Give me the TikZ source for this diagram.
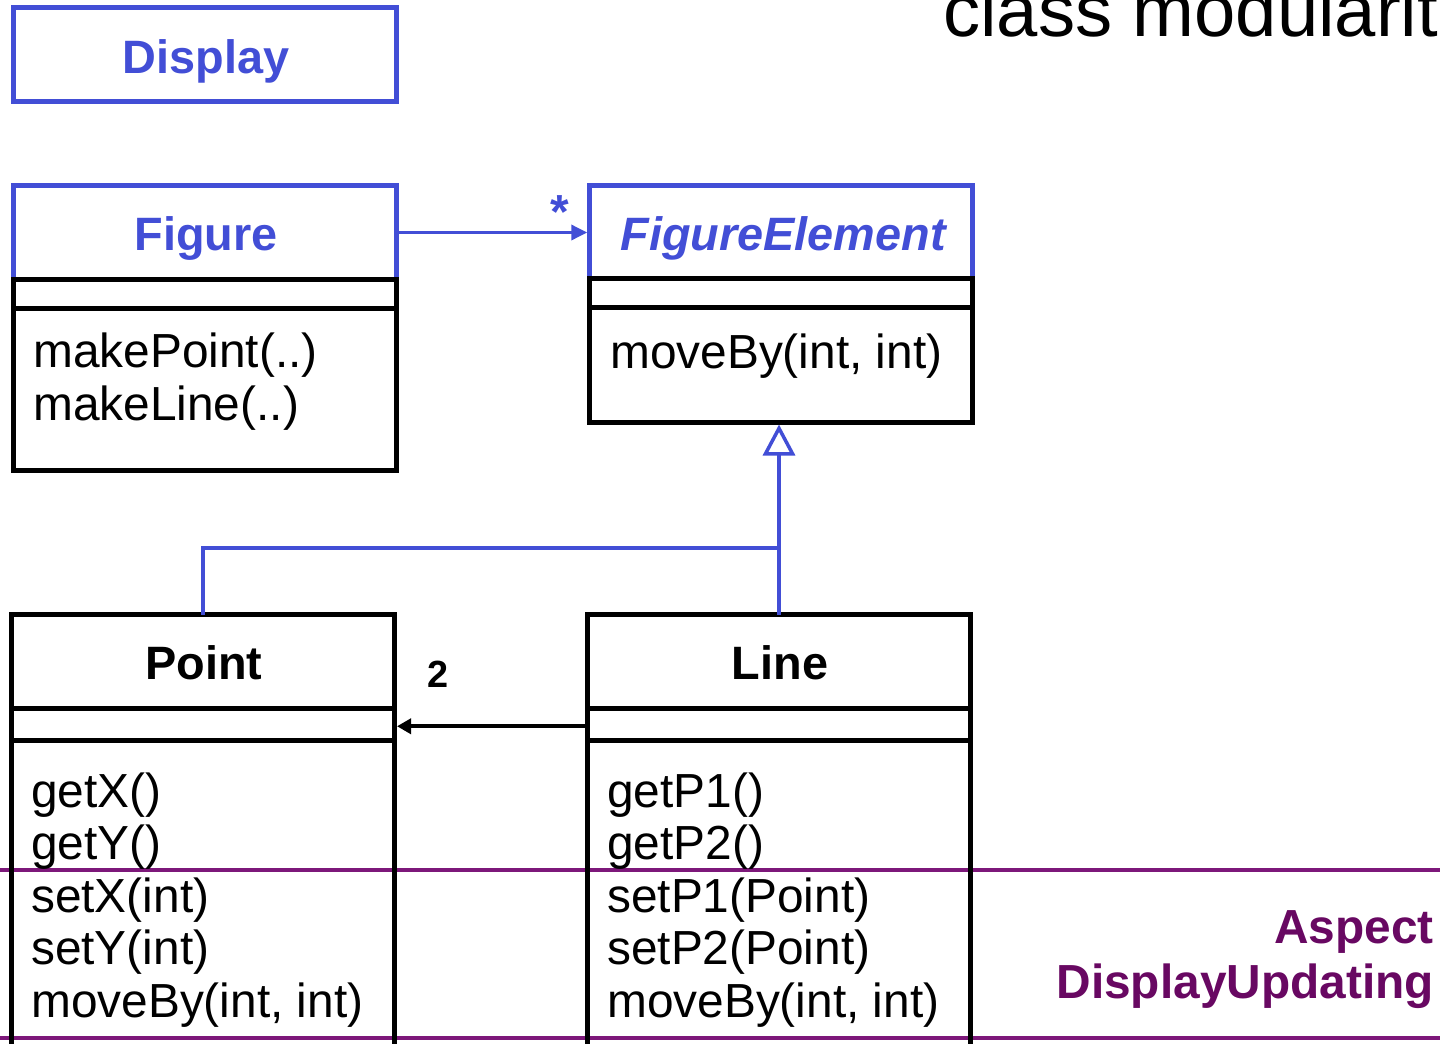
\documentclass[tikz,border=0pt]{standalone}
\usepackage{fontspec}
\setmainfont{Liberation Sans}
\usetikzlibrary{arrows.meta}
\definecolor{umlblue}{RGB}{66,78,214}
\definecolor{asppurple}{RGB}{125,24,122}
\definecolor{asptext}{RGB}{104,8,98}
\begin{document}
\begin{tikzpicture}[x=1bp,y=-1bp,
  hdr/.style={draw=umlblue, line width=4.5bp, anchor=north west, inner sep=0pt, outer sep=0pt, minimum width=#1},
  cbox/.style={draw=black, line width=5bp, anchor=north west, inner sep=0pt, outer sep=0pt, minimum width=#1},
  ttl/.style={font=\fontsize{47}{50}\selectfont\bfseries, inner sep=0pt, anchor=base},
  mth/.style={font=\fontsize{48}{52}\selectfont, inner sep=0pt, anchor=base west},
  bluearrow/.style={draw=umlblue, line width=3.5bp},
  aspline/.style={draw=asppurple, line width=4.5bp},
  asplabel/.style={font=\fontsize{48}{50}\selectfont\bfseries, text=asptext, inner sep=0pt, anchor=base east}
]
\useasboundingbox (0,0) rectangle (1440,1043);
\clip (0,0) rectangle (1440,1043);

% aspect boundary lines
\draw[aspline] (0,870) -- (1440,870);
\draw[aspline] (0,1038) -- (1440,1038);

% title
\node[font=\fontsize{74.5}{76}\selectfont, inner sep=0pt, anchor=base west] (title) at (943,36) {class modularit};

% Display
\node[hdr=383bp, minimum height=94bp] (display) at (13.5,7.5) {};
\node[ttl, text=umlblue] (displayt) at (206,73) {Display};

% Figure
\node[hdr=383bp, minimum height=94bp] (figh) at (13.5,185.5) {};
\node[cbox=383bp, minimum height=29bp] (figa) at (13.5,279.5) {};
\node[cbox=383bp, minimum height=162bp] (figm) at (13.5,308.5) {};
\node[ttl, text=umlblue] (figt) at (206,250) {Figure};
\node[mth] (figm1) at (33,367) {makePoint(..)};
\node[mth] (figm2) at (33,420) {makeLine(..)};

% FigureElement
\node[hdr=383bp, minimum height=92.5bp] (feh) at (589.5,185.5) {};
\node[cbox=383bp, minimum height=29bp] (fea) at (589.5,278) {};
\node[cbox=383bp, minimum height=115bp] (fem) at (589.5,307) {};
\node[ttl, text=umlblue, font=\fontsize{47}{50}\selectfont\bfseries\itshape] (fet) at (783,250) {FigureElement};
\node[mth] (fem1) at (610,368) {moveBy(int, int)};

% Point
\node[cbox=383bp, minimum height=94bp] (ph) at (11.5,614.5) {};
\node[cbox=383bp, minimum height=31.5bp] (pa) at (11.5,708.5) {};
\node[cbox=383bp, minimum height=330bp] (pm) at (11.5,740) {};
\node[ttl] (pt) at (204,679) {Point};
\node[mth] (pm1) at (31,807) {getX()};
\node[mth] (pm2) at (31,859) {getY()};
\node[mth] (pm3) at (31,912) {setX(int)};
\node[mth] (pm4) at (31,964) {setY(int)};
\node[mth] (pm5) at (31,1017) {moveBy(int, int)};

% Line
\node[cbox=383bp, minimum height=94bp] (lh) at (587.5,614.5) {};
\node[cbox=383bp, minimum height=31.5bp] (la) at (587.5,708.5) {};
\node[cbox=383bp, minimum height=330bp] (lm) at (587.5,740) {};
\node[ttl] (lt) at (780,679) {Line};
\node[mth] (lm1) at (607,807) {getP1()};
\node[mth] (lm2) at (607,859) {getP2()};
\node[mth] (lm3) at (607,912) {setP1(Point)};
\node[mth] (lm4) at (607,964) {setP2(Point)};
\node[mth] (lm5) at (607,1017) {moveBy(int, int)};

% association Figure -> FigureElement
\draw[bluearrow, -{Triangle[length=16bp,width=15bp]}, shorten >=2.25bp] (figh.east) -- (figh.east -| feh.west);
\node[font=\fontsize{48}{50}\selectfont\bfseries, text=umlblue, inner sep=0pt, anchor=base] (star) at (560,228) {*};

% association Line -> Point
\draw[line width=3.7bp, -{Triangle[length=14bp,width=15bp]}, shorten >=2.5bp] ([yshift=-2bp]la.west) -- ([yshift=-2bp]la.west -| pa.east);
\node[font=\fontsize{38}{40}\selectfont\bfseries, inner sep=0pt, anchor=base] (two) at (438,687) {2};

% generalisation
\coordinate (junc) at (780,548);
\draw[bluearrow, -{Triangle[open, length=31bp, width=32bp]}, shorten >=2.5bp] (lh.north) -- (lh.north |- fem.south);
\draw[bluearrow] (ph.north) |- (junc);

% aspect label
\node[asplabel] (asp1) at (1434,943) {Aspect};
\node[asplabel] (asp2) at (1434,998) {DisplayUpdating};
\end{tikzpicture}
\end{document}
